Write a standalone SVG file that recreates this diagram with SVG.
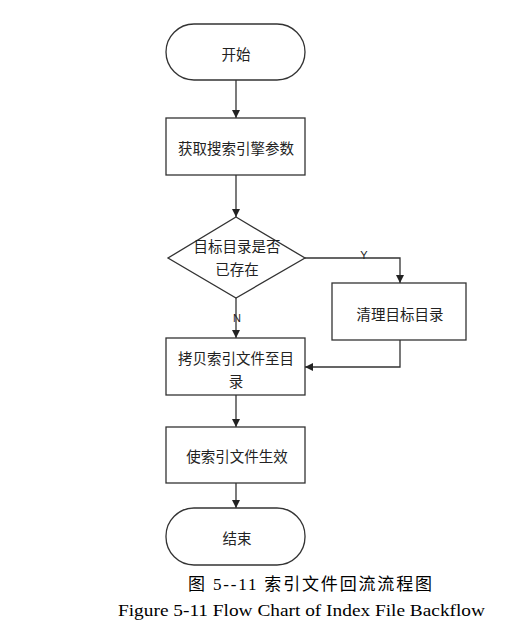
<svg xmlns="http://www.w3.org/2000/svg" width="526" height="633" viewBox="0 0 526 633">
<style>
.s{fill:#fff;stroke:#333;stroke-width:1.3}
.l{fill:none;stroke:#333;stroke-width:1.3}
.t{font-family:"Noto Sans CJK SC","Noto Sans",sans-serif;font-size:14.5px;fill:#222;text-anchor:middle;dominant-baseline:central}
.y{font-family:"Liberation Sans",sans-serif;font-size:11px;fill:#222;text-anchor:middle}
.c1{font-family:"Liberation Serif","Noto Sans CJK SC",serif;font-size:17px;fill:#000}
.c2{font-family:"Liberation Serif",serif;font-size:17px;fill:#000}
</style>
<defs>
<marker id="a" viewBox="0 0 10 10" refX="10" refY="5" markerWidth="8" markerHeight="8" markerUnits="userSpaceOnUse" orient="auto">
<path d="M0,0L10,5L0,10z" fill="#222"/>
</marker>
</defs>
<rect width="526" height="633" fill="#fff"/>
<g id="connectors">
<line class="l" x1="236" y1="80" x2="236" y2="118" marker-end="url(#a)"/>
<line class="l" x1="236" y1="175" x2="236" y2="217" marker-end="url(#a)"/>
<polyline class="l" points="305,258 400,258 400,283" marker-end="url(#a)"/>
<line class="l" x1="236" y1="298" x2="236" y2="338" marker-end="url(#a)"/>
<polyline class="l" points="400,340 400,367 305,367" marker-end="url(#a)"/>
<line class="l" x1="236" y1="395" x2="236" y2="427" marker-end="url(#a)"/>
<line class="l" x1="236" y1="483" x2="236" y2="508" marker-end="url(#a)"/>
<text class="y" x="364" y="259">Y</text>
<text class="y" x="237" y="322">N</text>
</g>
<g id="start">
<rect class="s" x="166" y="24" width="139" height="56" rx="28"/>
<text class="t" x="236" y="53">开始</text>
</g>
<g id="getparams">
<rect class="s" x="166" y="118" width="139" height="57"/>
<text class="t" x="236" y="147">获取搜索引擎参数</text>
</g>
<g id="decision">
<polygon class="s" points="236,217 305,258 236,298 168,258"/>
<text class="t" x="237" y="245">目标目录是否</text>
<text class="t" x="237" y="268">已存在</text>
</g>
<g id="clean">
<rect class="s" x="332" y="283" width="134" height="57"/>
<text class="t" x="400" y="313">清理目标目录</text>
</g>
<g id="copy">
<rect class="s" x="166" y="338" width="139" height="57"/>
<text class="t" x="236" y="357">拷贝索引文件至目</text>
<text class="t" x="236" y="380">录</text>
</g>
<g id="activate">
<rect class="s" x="166" y="427" width="139" height="56"/>
<text class="t" x="237" y="455">使索引文件生效</text>
</g>
<g id="end">
<rect class="s" x="166" y="508" width="139" height="57" rx="28"/>
<text class="t" x="237" y="537">结束</text>
</g>
<g id="caption">
<text class="c1" x="188" y="590" textLength="244" lengthAdjust="spacing">图 5--11  索引文件回流流程图</text>
<text class="c2" x="118" y="616" textLength="367" lengthAdjust="spacingAndGlyphs">Figure 5-11 Flow Chart of Index File Backflow</text>
</g>
</svg>
